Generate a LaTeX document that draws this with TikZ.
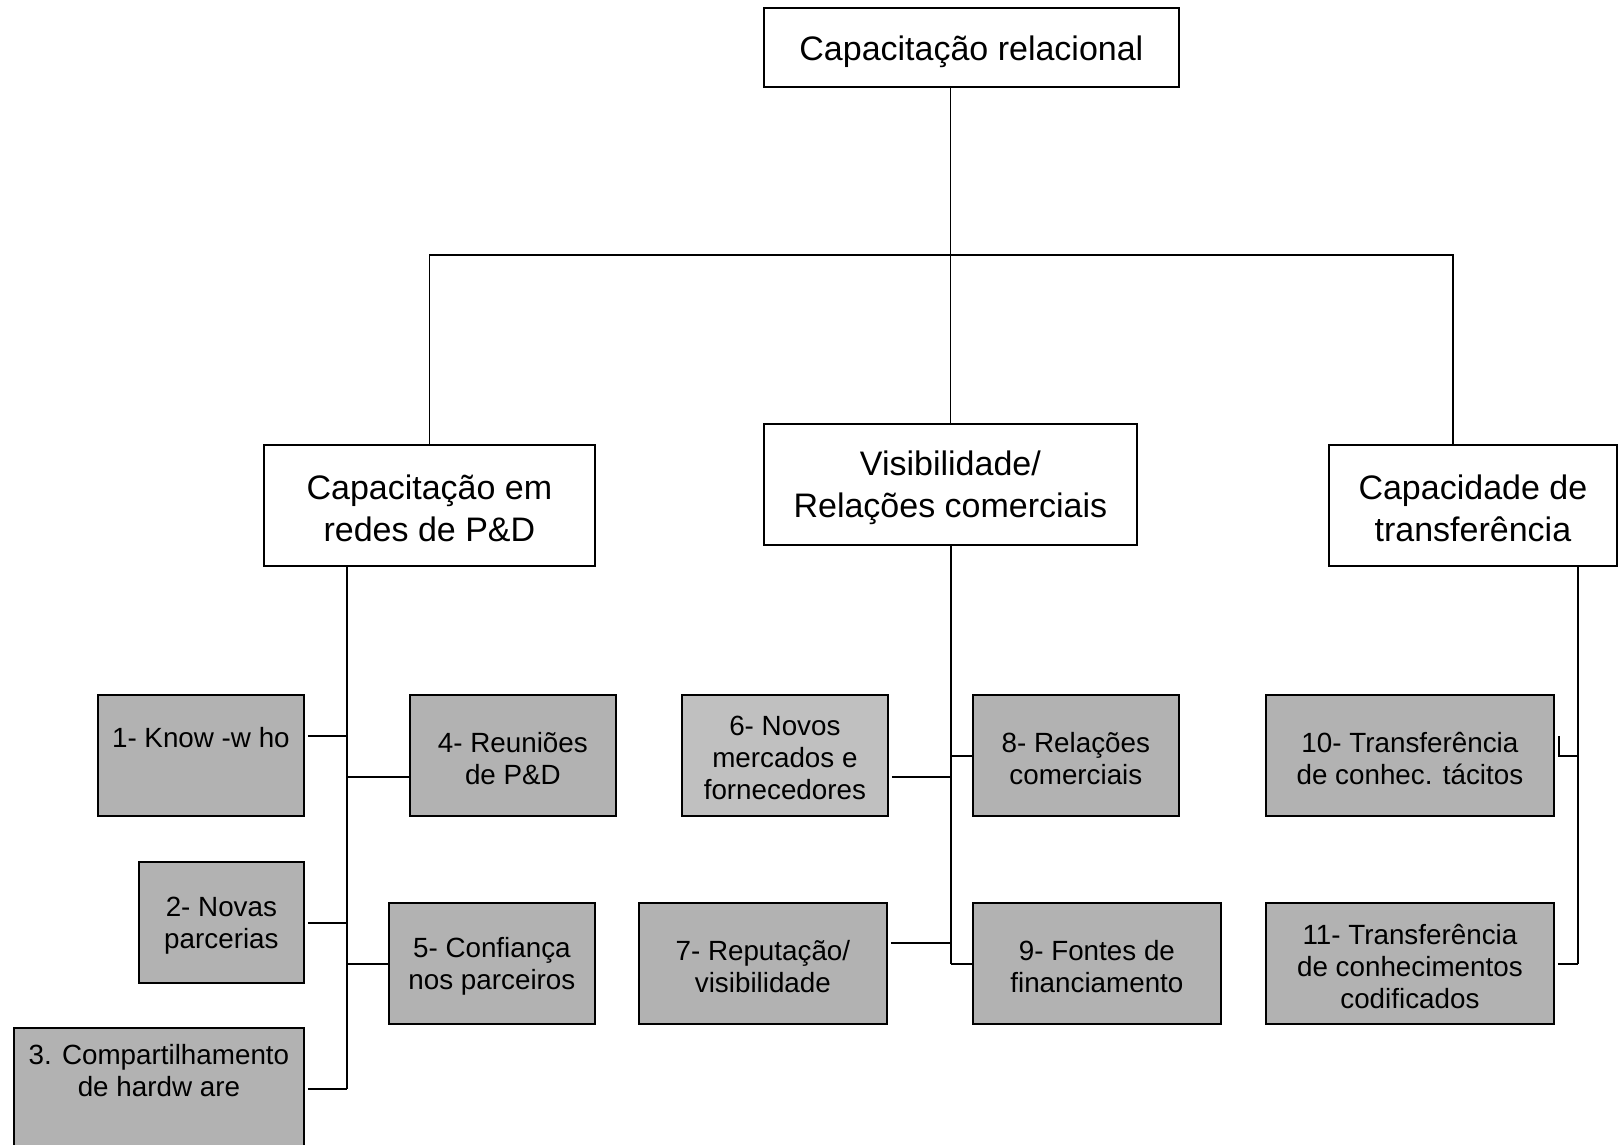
\documentclass[tikz,border=0pt]{standalone}
\usepackage{fontspec}
\setmainfont{Liberation Sans}
\definecolor{leafgray}{RGB}{178,178,178}
\definecolor{leaflight}{RGB}{192,192,192}
\newcommand\boxnode[5]{%
  \node[#1, anchor=north west, minimum width=#3pt] (#2) at (#4) {};
  \node[#1txt] (#2t) at ([yshift=-3pt]#2.center) {#5};}
\begin{document}
\begin{tikzpicture}[x=1pt,y=-1pt,
  line width=1.8pt,
  bigbox/.style={draw, fill=white, inner sep=0pt, minimum height=121pt},
  bigboxtxt/.style={align=center, inner sep=0pt, font=\fontsize{34}{42}\selectfont},
  leaf/.style={draw, fill=leafgray, inner sep=0pt, minimum height=121pt},
  leaftxt/.style={align=center, inner sep=0pt, font=\fontsize{27.8}{32}\selectfont},
  light/.style={leaf, fill=leaflight},
  lighttxt/.style={leaftxt},
  conn/.style={line width=1.8pt}]
\useasboundingbox (0,0) rectangle (1620,1145);
% top and second level
\node[bigbox, anchor=north west, minimum width=415pt, minimum height=79pt] (top) at (763,7) {};
\node[bigboxtxt] (topt) at ([yshift=-4pt]top.center) {Capacitação relacional};
\boxnode{bigbox}{A}{331}{263,444}{Capacitação em\\redes de P\&D}
\boxnode{bigbox}{B}{373}{763,423}{Visibilidade/\\Relações comerciais}
\boxnode{bigbox}{C}{288}{1328,444}{Capacidade de\\transferência}
% leaves
\boxnode{leaf}{b1}{206}{97,694}{1- Know -w ho\\\strut}
\boxnode{leaf}{b2}{165}{138,861}{2- Novas\\parcerias}
\boxnode{leaf}{b3}{290}{13,1027}{3. Compartilhamento\\de hardw are\\\strut}
\boxnode{leaf}{b4}{206}{409,694}{4- Reuniões\\de P\&D}
\boxnode{leaf}{b5}{206}{388,902}{5- Confiança\\nos parceiros}
\boxnode{light}{b6}{206}{681,694}{6- Novos\\mercados e\\fornecedores}
\boxnode{leaf}{b7}{248}{638,902}{7- Reputação/\\visibilidade}
\boxnode{leaf}{b8}{206}{972,694}{8- Relações\\comerciais}
\boxnode{leaf}{b9}{248}{972,902}{9- Fontes de\\financiamento}
\boxnode{leaf}{b10}{288}{1265,694}{10- Transferência\\de conhec. tácitos}
\boxnode{leaf}{b11}{288}{1265,902}{11- Transferência\\de conhecimentos\\codificados}
% spine coordinates
\coordinate (hR) at (1453,255);
\coordinate (sLt) at (347,565);
\coordinate (sLb) at (347,1089);
\coordinate (sMt) at (951,545);
\coordinate (sMb) at (951,964);
\coordinate (sRt) at (1578,565);
\coordinate (sRb) at (1578,964);
% connector heights
\coordinate (y1) at (0,736);
\coordinate (y4) at (0,777);
\coordinate (y2) at (0,923);
\coordinate (y5) at (0,964);
\coordinate (y8) at (0,756);
\coordinate (y7) at (0,943);
% top level connectors
\draw[conn] (top.south -| B.north) -- (B.north);
\draw[conn] (A.north) |- (hR) -- (hR |- C.north);
% left tree
\draw[conn] (sLt) -- (sLb);
\draw[conn] ([xshift=3pt]b1.east |- y1) -- (sLt |- y1);
\draw[conn] (b4.west |- y4) -- (sLt |- y4);
\draw[conn] ([xshift=3pt]b2.east |- y2) -- (sLt |- y2);
\draw[conn] (b5.west |- y5) -- (sLt |- y5);
\draw[conn] ([xshift=3pt]b3.east |- sLb) -- (sLb);
% middle tree
\draw[conn] (sMt) -- (sMb);
\draw[conn] ([xshift=3pt]b6.east |- y4) -- (sMt |- y4);
\draw[conn] (b8.west |- y8) -- (sMt |- y8);
\draw[conn] ([xshift=3pt]b7.east |- y7) -- (sMt |- y7);
\draw[conn] (b9.west |- sMb) -- (sMb);
% right tree
\draw[conn] (sRt) -- (sRb);
\draw[conn] ([xshift=4pt]b10.east |- y1) -- ([xshift=4pt]b10.east |- y8) -- (sRt |- y8);
\draw[conn] ([xshift=3pt]b11.east |- sRb) -- (sRb);
\end{tikzpicture}
\end{document}
